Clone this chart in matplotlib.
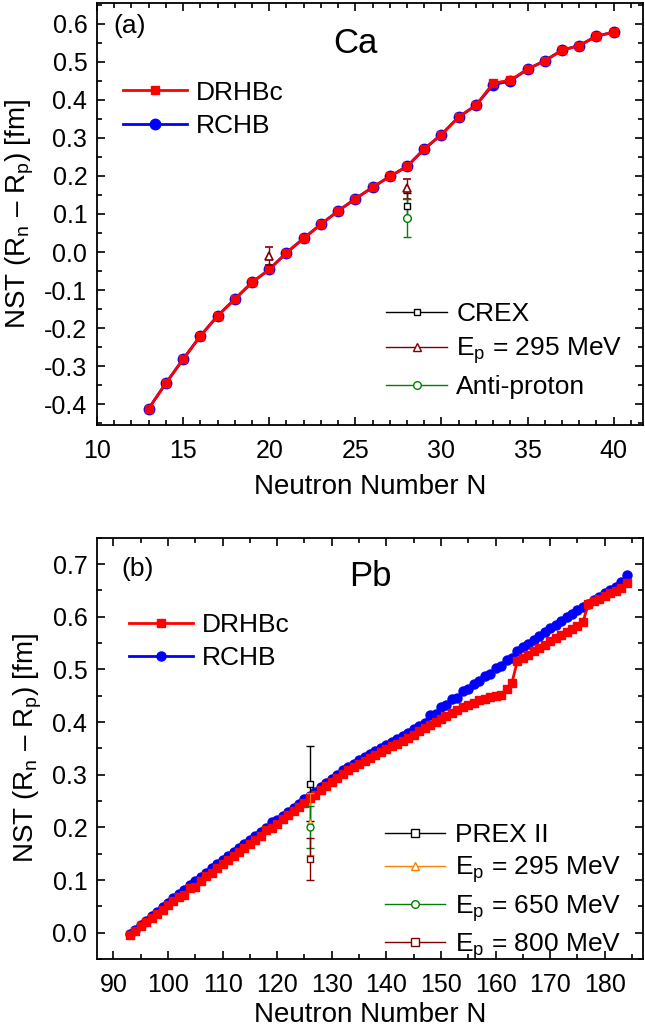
import matplotlib
matplotlib.use('Agg')
import matplotlib.pyplot as plt
from matplotlib.lines import Line2D
from matplotlib.ticker import MultipleLocator

plt.rcParams['font.family'] = ['Liberation Sans', 'DejaVu Sans']
plt.rcParams['mathtext.fontset'] = 'custom'
plt.rcParams['mathtext.rm'] = 'Liberation Sans'
plt.rcParams['mathtext.it'] = 'Liberation Sans:italic'

# ---- Ca isotopes: neutron skin thickness (fm)
ca_N = list(range(13, 41))
ca_drhbc = [-0.412, -0.345, -0.282, -0.221, -0.168, -0.124, -0.080, -0.046,
            -0.002, 0.036, 0.073, 0.108, 0.140, 0.170, 0.199, 0.225,
            0.271, 0.309, 0.355, 0.386, 0.444, 0.452, 0.481, 0.503,
            0.531, 0.543, 0.568, 0.578]
ca_rchb = [-0.412, -0.345, -0.282, -0.221, -0.168, -0.124, -0.080, -0.046,
           -0.002, 0.036, 0.073, 0.108, 0.140, 0.170, 0.199, 0.225,
           0.271, 0.309, 0.355, 0.386, 0.440, 0.450, 0.481, 0.503,
           0.531, 0.543, 0.568, 0.578]

# Ca experiments (value, lower err, upper err)
crex_N = [28]
crex_val = [0.121]
crex_lo = [0.035]
crex_hi = [0.035]
ca_p295_N = [20, 28]
ca_p295_val = [-0.010, 0.168]
ca_p295_lo = [0.024, 0.028]
ca_p295_hi = [0.022, 0.025]
pbar_N = [28]
pbar_val = [0.09]
pbar_lo = [0.05]
pbar_hi = [0.05]

# ---- Pb isotopes
pb_N = list(range(93, 185))
pb_drhbc = [-0.004, 0.004, 0.012, 0.020, 0.028, 0.036, 0.044, 0.052,
            0.060, 0.068, 0.071, 0.084, 0.087, 0.099, 0.107, 0.114,
            0.122, 0.130, 0.138, 0.145, 0.153, 0.161, 0.168, 0.176,
            0.184, 0.195, 0.199, 0.207, 0.215, 0.223, 0.231, 0.239,
            0.247, 0.255, 0.262, 0.270, 0.278, 0.286, 0.294, 0.302,
            0.308, 0.314, 0.320, 0.326, 0.332, 0.337, 0.343, 0.348,
            0.354, 0.359, 0.364, 0.370, 0.376, 0.382, 0.388, 0.394,
            0.400, 0.406, 0.412, 0.418, 0.423, 0.428, 0.433, 0.437,
            0.441, 0.444, 0.447, 0.449, 0.452, 0.462, 0.475, 0.516,
            0.522, 0.528, 0.534, 0.540, 0.546, 0.553, 0.559, 0.565,
            0.571, 0.577, 0.583, 0.590, 0.625, 0.630, 0.634, 0.639,
            0.644, 0.649, 0.654, 0.664]
pb_rchb = [-0.002, 0.006, 0.015, 0.023, 0.031, 0.040, 0.048, 0.057,
           0.065, 0.074, 0.082, 0.090, 0.098, 0.106, 0.114, 0.122,
           0.130, 0.138, 0.146, 0.154, 0.161, 0.169, 0.176, 0.184,
           0.191, 0.199, 0.210, 0.214, 0.222, 0.229, 0.237, 0.245,
           0.253, 0.260, 0.268, 0.276, 0.284, 0.292, 0.300, 0.308,
           0.315, 0.321, 0.327, 0.333, 0.339, 0.345, 0.350, 0.356,
           0.362, 0.368, 0.374, 0.380, 0.387, 0.393, 0.399, 0.414,
           0.416, 0.428, 0.432, 0.443, 0.446, 0.458, 0.462, 0.473,
           0.477, 0.488, 0.492, 0.503, 0.507, 0.518, 0.521, 0.534,
           0.542, 0.549, 0.556, 0.563, 0.570, 0.578, 0.585, 0.592,
           0.599, 0.605, 0.612, 0.618, 0.625, 0.631, 0.637, 0.644,
           0.650, 0.656, 0.666, 0.679]

# Pb-208 experiments
pb_exp_N = 126
pb_exp = {
    'PREX II': (0.283, 0.071, 0.071, 'black', 's'),
    'E$_\\mathregular{p}$ = 295 MeV': (0.211, 0.063, 0.054, '#ff8000', '^'),
    'E$_\\mathregular{p}$ = 650 MeV': (0.200, 0.040, 0.040, '#008000', 'o'),
    'E$_\\mathregular{p}$ = 800 MeV': (0.140, 0.040, 0.040, '#800000', 's'),
}

ylabel = 'NST (R$_\\mathregular{n}$ – R$_\\mathregular{p}$) [fm]'
FS_TICK = 18
FS_LAB = 20
FS_LEG = 19

fig = plt.figure(figsize=(6.45, 10.31), dpi=100)
ax1 = fig.add_axes([0.1504, 0.5878, 0.8465, 0.4093])
ax2 = fig.add_axes([0.1504, 0.0698, 0.8465, 0.4087])


def style_axes(ax, xpad):
    for s in ax.spines.values():
        s.set_linewidth(1.3)
    ax.tick_params(which='both', direction='in', top=True, right=True,
                   width=1.2, labelsize=FS_TICK)
    ax.tick_params(which='major', length=6)
    ax.tick_params(axis='x', which='major', pad=10)
    ax.tick_params(axis='y', which='major', pad=7)
    ax.tick_params(which='minor', length=3.5)
    ax.set_xlabel('Neutron Number N', fontsize=FS_LAB, labelpad=xpad)
    ax.set_ylabel(ylabel, fontsize=FS_LAB, labelpad=6)


# (a) Ca
rchb_a, = ax1.plot(ca_N, ca_rchb, '-o', color='blue', lw=2, ms=7.5, zorder=2, label='RCHB')
drhbc_a, = ax1.plot(ca_N, ca_drhbc, '-s', color='red', lw=2, ms=6, zorder=3, label='DRHBc')
ax1.errorbar(crex_N, crex_val, yerr=[crex_lo, crex_hi], fmt='s', color='black',
             mfc='white', ms=4.5, mew=1, elinewidth=1, capsize=3, zorder=4)
ax1.errorbar(ca_p295_N, ca_p295_val, yerr=[ca_p295_lo, ca_p295_hi], fmt='^',
             color='#800000', mfc='white', ms=6, mew=1.2, elinewidth=1, capsize=3, zorder=4)
ax1.errorbar(pbar_N, pbar_val, yerr=[pbar_lo, pbar_hi], fmt='o', color='#008000',
             mfc='white', ms=5.5, mew=1, elinewidth=1, capsize=3, zorder=4)

ax1.set_xlim(10, 41.7)
ax1.set_ylim(-0.455, 0.655)
ax1.xaxis.set_major_locator(MultipleLocator(5))
ax1.xaxis.set_minor_locator(MultipleLocator(1))
ax1.yaxis.set_major_locator(MultipleLocator(0.1))
ax1.yaxis.set_minor_locator(MultipleLocator(0.05))
ax1.yaxis.set_major_formatter(lambda v, p: f'{v:.1f}'.replace('-0.0', '0.0'))
style_axes(ax1, 8)
ax1.text(0.059, 0.945, '(a)', transform=ax1.transAxes, fontsize=19, ha='center', va='center')
ax1.text(0.473, 0.905, 'Ca', transform=ax1.transAxes, fontsize=25, ha='center', va='center')

leg1 = ax1.legend(handles=[drhbc_a, rchb_a], loc='upper left', bbox_to_anchor=(0.048, 0.816),
                  frameon=False, fontsize=FS_LEG, borderpad=0, borderaxespad=0,
                  handlelength=2.4, handletextpad=0.35, labelspacing=0.35)
ax1.add_artist(leg1)
exp_a = [Line2D([], [], color='black', marker='s', mfc='white', ms=5, lw=1),
         Line2D([], [], color='#800000', marker='^', mfc='white', ms=6, lw=1),
         Line2D([], [], color='#008000', marker='o', mfc='white', ms=5.5, lw=1)]
ax1.legend(exp_a, ['CREX', 'E$_\\mathregular{p}$ = 295 MeV', 'Anti-proton'],
           loc='upper left', bbox_to_anchor=(0.53, 0.291), frameon=False,
           fontsize=FS_LEG, borderpad=0, borderaxespad=0,
           handlelength=2.3, handletextpad=0.35, labelspacing=0.35)

# (b) Pb
rchb_b, = ax2.plot(pb_N, pb_rchb, '-o', color='blue', lw=2, ms=6.5, zorder=2, label='RCHB')
drhbc_b, = ax2.plot(pb_N, pb_drhbc, '-s', color='red', lw=2, ms=6, zorder=3, label='DRHBc')
exp_b = []
for name, (val, lo, hi, col, mk) in pb_exp.items():
    ax2.errorbar([pb_exp_N], [val], yerr=[[lo], [hi]], fmt=mk, color=col, mfc='white',
                 ms=5, mew=1, elinewidth=1, capsize=3, zorder=4)
    exp_b.append(Line2D([], [], color=col, marker=mk, mfc='white', ms=5.5, lw=1))

ax2.set_xlim(87, 187)
ax2.set_ylim(-0.05, 0.75)
ax2.xaxis.set_major_locator(MultipleLocator(10))
ax2.xaxis.set_minor_locator(MultipleLocator(5))
ax2.yaxis.set_major_locator(MultipleLocator(0.1))
ax2.yaxis.set_minor_locator(MultipleLocator(0.05))
ax2.yaxis.set_major_formatter(lambda v, p: f'{v:.1f}'.replace('-0.0', '0.0'))
style_axes(ax2, 4)
ax2.text(0.075, 0.926, '(b)', transform=ax2.transAxes, fontsize=19, ha='center', va='center')
ax2.text(0.5, 0.909, 'Pb', transform=ax2.transAxes, fontsize=25, ha='center', va='center')

leg2 = ax2.legend(handles=[drhbc_b, rchb_b], loc='upper left', bbox_to_anchor=(0.059, 0.821),
                  frameon=False, fontsize=FS_LEG, borderpad=0, borderaxespad=0,
                  handlelength=2.4, handletextpad=0.35, labelspacing=0.35)
ax2.add_artist(leg2)
ax2.legend(exp_b, list(pb_exp.keys()), loc='upper left', bbox_to_anchor=(0.527, 0.322),
           frameon=False, fontsize=FS_LEG, borderpad=0, borderaxespad=0,
           handlelength=2.3, handletextpad=0.35, labelspacing=0.28)

fig.savefig('out.png', dpi=100)
